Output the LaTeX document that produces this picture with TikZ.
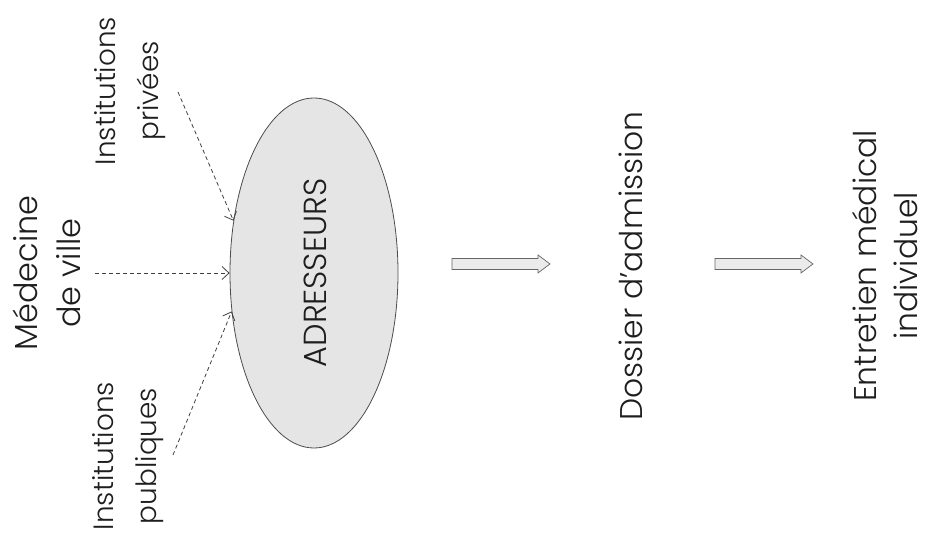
\documentclass[tikz,border=0pt]{standalone}
\usepackage{fontspec}
\setmainfont{Poppins}[UprightFont={* Light}]
\usetikzlibrary{shapes.geometric,arrows.meta}
\definecolor{ink}{HTML}{1E1E1E}
\tikzset{
  lbl/.style={rotate=90, align=center, inner sep=0pt, text=ink},
  big/.style={font=\fontsize{31.5}{41}\selectfont},
  mid/.style={font=\fontsize{32}{43}\selectfont},
  small/.style={font=\fontsize{28}{43}\selectfont},
  feed/.style={draw=black!75, line width=0.8bp, dash pattern=on 4bp off 3bp,
    -{Straight Barb[length=7bp,width=13bp,line width=0.8bp]}},
  blockarr/.style={draw=black!60, fill=black!8, line width=0.7bp, line join=miter},
}
\newcommand{\blockarrowpath}[1]{%
  \draw[blockarr] (#1) ++(0,-5.5) -- ++(86,0) -- ++(0,-3.5) -- ++(12,9)
    -- ++(-12,9) -- ++(0,-3.5) -- ++(-86,0) -- cycle;}
\begin{document}
\begin{tikzpicture}[x=1bp,y=1bp]
\useasboundingbox (0,0) rectangle (928,546);
\node[ellipse, draw=black!70, fill=black!10, line width=0.8bp,
  minimum width=168bp, minimum height=350bp, inner sep=0pt] (ell) at (314,273) {};
\node[lbl, mid] (adr) at (315,273) {ADRESSEURS};
\node[lbl, mid] (med) at (47,273) {Médecine\\de ville};
\node[lbl, small] (priv) at (130,455) {Institutions\\privées};
\node[lbl, small] (pub) at (128,90) {Institutions\\publiques};
\node[lbl, big] (dos) at (631,280) {Dossier d'admission};
\node[lbl, big] (ent) at (885,280) {Entretien médical\\individuel};
\coordinate (a1) at (452,282);
\coordinate (a2) at (715,282);
\blockarrowpath{a1}
\blockarrowpath{a2}
\coordinate (ptop) at (178,454);
\coordinate (pmid) at (95,273);
\coordinate (pbot) at (173,91);
\draw[feed] (ptop) -- (ell.147);
\draw[feed] (pmid) -- (ell.west);
\draw[feed] (pbot) -- (ell.205);
\end{tikzpicture}
\end{document}
